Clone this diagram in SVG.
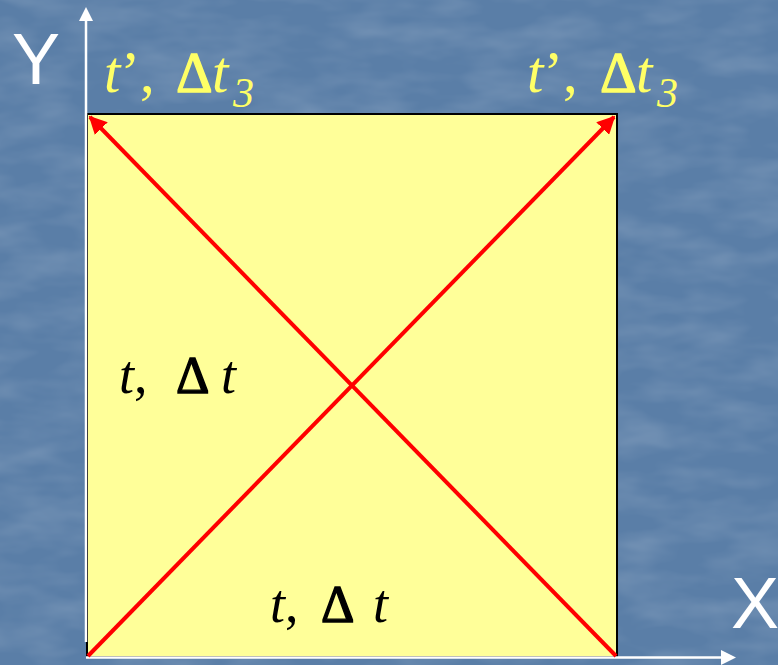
<svg xmlns="http://www.w3.org/2000/svg" width="778" height="665" viewBox="0 0 778 665">
<defs>
<style>
.axis{stroke:#ffffff;stroke-width:2.5;fill:none}
.axhead{fill:#ffffff}
.diag{stroke:#ff0000;stroke-width:4;fill:none}
.axlbl{font-family:"Liberation Sans",Arial,sans-serif;font-size:72px;fill:#ffffff}
.ylbl{font-family:"Liberation Serif","Times New Roman",serif;font-size:59px;fill:#ffff66}
.blbl{font-family:"Liberation Serif","Times New Roman",serif;font-size:54px;fill:#000000}
.it{font-style:italic}
.sub{font-style:italic;font-size:42px}
.dy{font-size:57px;stroke:#ffff66;stroke-width:1.3}
.db{font-size:52px;stroke:#000000;stroke-width:1.4}
</style>
<marker id="redhead" viewBox="0 0 10 10" refX="9" refY="5" markerWidth="4.5" markerHeight="4.5" orient="auto" markerUnits="strokeWidth">
<path d="M0,0 L10,5 L0,10 z" fill="#ff0000"/>
</marker>
<filter id="tex" x="0" y="0" width="100%" height="100%">
<feTurbulence type="fractalNoise" baseFrequency="0.015 0.04" numOctaves="3" seed="7" result="n"/>
<feColorMatrix in="n" type="matrix" values="0 0 0 0 1  0 0 0 0 1  0 0 0 0 1  0 0 0 0.25 -0.09"/>
</filter>
</defs>
<rect width="778" height="665" fill="#5a7ea7"/>
<rect width="778" height="665" filter="url(#tex)"/>
<g id="square">
<rect x="87" y="114" width="530" height="543" fill="#ffff99" stroke="#000000" stroke-width="2"/>
</g>
<g id="axes">
<line class="axis" x1="86" y1="20" x2="86" y2="642"/>
<polygon class="axhead" points="86,7 79,21 93,21"/>
<line class="axis" x1="86" y1="657.5" x2="722" y2="657.5"/>
<polygon class="axhead" points="736,657.5 721,650 721,665"/>
</g>
<g id="connectors">
<line class="diag" x1="88" y1="656" x2="614" y2="117" marker-end="url(#redhead)"/>
<line class="diag" x1="616" y1="656" x2="90" y2="117" marker-end="url(#redhead)"/>
</g>
<g id="labels">
<text class="axlbl" x="12" y="84">Y</text>
<text class="axlbl" x="731" y="628">X</text>
<text class="ylbl" y="92"><tspan class="it" x="104">t</tspan><tspan>’,</tspan><tspan class="dy" x="176">Δ</tspan><tspan class="it" x="212">t</tspan><tspan class="sub" x="233" dy="15">3</tspan></text>
<text class="ylbl" y="92"><tspan class="it" x="527">t</tspan><tspan>’,</tspan><tspan class="dy" x="600">Δ</tspan><tspan class="it" x="636">t</tspan><tspan class="sub" x="657" dy="15">3</tspan></text>
<text class="blbl" y="393"><tspan class="it" x="119">t</tspan><tspan>,</tspan><tspan class="db" x="176">Δ</tspan><tspan class="it" x="221">t</tspan></text>
<text class="blbl" y="622"><tspan class="it" x="270">t</tspan><tspan>,</tspan><tspan class="db" x="321">Δ</tspan><tspan class="it" x="373">t</tspan></text>
</g>
</svg>
